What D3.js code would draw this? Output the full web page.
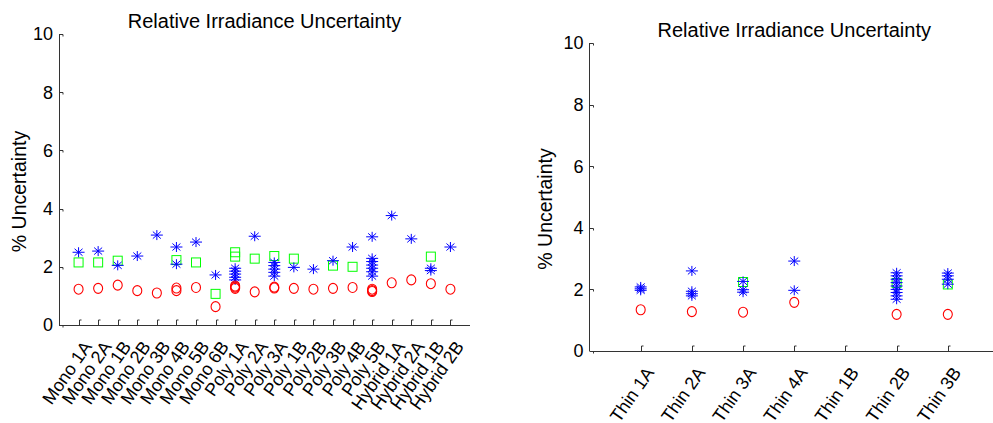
<!DOCTYPE html>
<html><head><meta charset="utf-8">
<script src="https://cdn.jsdelivr.net/npm/d3@7"></script>
<style>body{margin:0;background:#fff;} svg{display:block;font-family:"Liberation Sans",Arial,sans-serif;}</style>
</head><body>
<svg id="c" width="993" height="423"></svg>
<script>
const titleText = "Relative Irradiance Uncertainty";
const yLabelText = "% Uncertainty";
const yTicks = [0, 2, 4, 6, 8, 10];

const leftCategories = ["Mono 1A","Mono 2A","Mono 1B","Mono 2B","Mono 3B","Mono 4B","Mono 5B","Mono 6B",
  "Poly 1A","Poly 2A","Poly 3A","Poly 1B","Poly 2B","Poly 3B","Poly 4B","Poly 5B",
  "Hybrid 1A","Hybrid 2A","Hybrid 1B","Hybrid 2B"];
const leftStars = [[2.50],[2.54],[2.05],[2.37],[3.09],[2.68,2.09],[2.85],[1.72],
  [1.95,1.85,1.75,1.64,1.55],[3.05],[2.15,2.04,1.92,1.81,1.68],[1.98],[1.92],[2.21],[2.68],
  [3.03,2.29,2.18,2.06,1.95,1.83,1.68],[3.76],[2.96],[1.95,1.87],[2.68]];
const leftSquares = [[2.15],[2.15],[2.21],[],[],[2.23],[2.15],[1.07],
  [2.50,2.35],[2.28],[2.37],[2.28],[],[2.04],[2.00],[],[],[],[2.35],[]];
const leftCircles = [[1.23],[1.26],[1.37],[1.18],[1.10],[1.27,1.18],[1.29],[0.63],
  [1.34,1.30,1.26],[1.14],[1.30,1.27],[1.26],[1.23],[1.26],[1.29],[1.23,1.18,1.15],[1.45],[1.55],[1.42],[1.23]];

const rightCategories = ["Thin 1A","Thin 2A","Thin 3A","Thin 4A","Thin 1B","Thin 2B","Thin 3B"];
const rightStars = [[2.08,2.02,1.97],[2.60,1.94,1.86,1.79],[2.26,1.99,1.91],[2.92,1.97],[],
  [2.54,2.44,2.33,2.22,2.11,2.00,1.90,1.79,1.68],[2.53,2.44,2.33,2.17]];
const rightSquares = [[],[],[2.24],[],[],[2.21],[2.16]];
const rightCircles = [[1.34],[1.28],[1.26],[1.58],[],[1.19],[1.19]];

const svg = d3.select("#c");

function panel(cfg) {
  const {cats, stars, squares, circles, x0, x1, y0, y1, ylabX} = cfg;
  const x = d3.scaleLinear().domain([0, cats.length + 1]).range([x0, x1]);
  const y = d3.scaleLinear().domain([0, 10]).range([y0, y1]);
  const g = svg.append("g");
  const axisCol = "#333";

  g.append("line").attr("x1", x0).attr("x2", x0).attr("y1", y0).attr("y2", y1)
    .attr("stroke", axisCol).attr("stroke-width", 1).attr("shape-rendering","crispEdges");
  g.append("line").attr("x1", x0).attr("x2", x1).attr("y1", y0).attr("y2", y0)
    .attr("stroke", axisCol).attr("stroke-width", 1).attr("shape-rendering","crispEdges");

  yTicks.forEach(t => {
    const yy = Math.round(y(t)) + 0.5;
    g.append("path").attr("d", `M${x0},${yy}H${x0+4}V${yy+2}`)
      .attr("fill","none").attr("stroke", axisCol).attr("stroke-width", 1);
    g.append("text").attr("x", x0 - 6).attr("y", y(t)).attr("dy", "0.35em")
      .attr("text-anchor", "end").attr("font-size", 18).attr("fill", "#000").text(t);
  });

  cats.forEach((c, i) => {
    const xx = Math.round(x(i + 1)) + 0.5;
    g.append("path").attr("d", `M${xx},${y0}V${y0-5}H${xx+2}`)
      .attr("fill","none").attr("stroke", axisCol).attr("stroke-width", 1);
    g.append("text")
      .attr("transform", `translate(${x(i+1) + 9},${y0 + 18}) rotate(-55)`)
      .attr("text-anchor", "end").attr("dy", "0.35em")
      .attr("font-size", 18).attr("fill", "#000").text(c);
  });

  g.append("text").attr("x", (x0 + x1) / 2).attr("y", y1 - 6)
    .attr("text-anchor", "middle").attr("font-size", 20).attr("fill", "#000").text(titleText);
  g.append("text").attr("transform", `translate(${ylabX},${(y0 + y1) / 2 + 12}) rotate(-90)`)
    .attr("text-anchor", "middle").attr("font-size", 19.5).attr("fill", "#000").text(yLabelText);

  const pts = (arr) => arr.flatMap((vals, i) => vals.map(v => ({i, v})));

  g.selectAll(null).data(pts(squares)).join("rect")
    .attr("x", d => x(d.i + 1) - 4.5).attr("y", d => y(d.v) - 4.5)
    .attr("width", 9).attr("height", 9)
    .attr("fill", "none").attr("stroke", "#00ff00").attr("stroke-width", 1);
  g.selectAll(null).data(pts(stars)).join("path")
    .attr("transform", d => `translate(${x(d.i + 1)},${y(d.v)})`)
    .attr("d", "M-6,0H6M0,-5V5M-4,-3.5L4,3.5M-4,3.5L4,-3.5")
    .attr("fill", "none").attr("stroke", "#0000ff").attr("stroke-width", 1);
  g.selectAll(null).data(pts(circles)).join("ellipse")
    .attr("cx", d => x(d.i + 1)).attr("cy", d => y(d.v))
    .attr("rx", 4.5).attr("ry", 5)
    .attr("fill", "none").attr("stroke", "#ff0000").attr("stroke-width", 1.1);
}

panel({cats: leftCategories, stars: leftStars, squares: leftSquares, circles: leftCircles,
  x0: 59, x1: 470, y0: 325, y1: 34, ylabX: 26});
panel({cats: rightCategories, stars: rightStars, squares: rightSquares, circles: rightCircles,
  x0: 589.5, x1: 999, y0: 351, y1: 43, ylabX: 552});
</script>
</body></html>
